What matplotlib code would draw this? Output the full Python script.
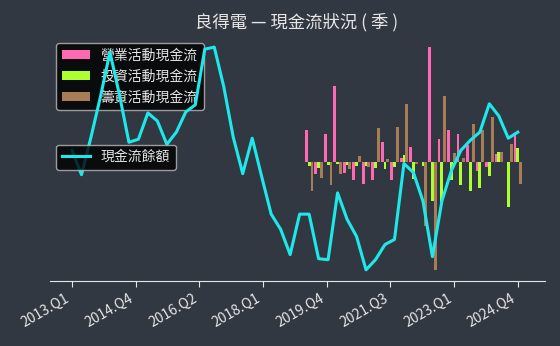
import numpy as np
import matplotlib
matplotlib.use("Agg")
import matplotlib.pyplot as plt

plt.rcParams['font.family'] = ['Noto Sans CJK TC', 'DejaVu Sans']

# quarterly data, 2013.Q1 .. 2024.Q4 (48 quarters)
cash_balance = [131, 107, 144, 184, 228, 186, 139, 142, 168, 160,
                137, 149, 169, 176, 231, 233, 194, 144, 108, 143,
                105, 68, 53, 28, 68, 68, 24, 23, 89, 63,
                46, 13, 23, 38, 43, 118, 109, 81, 26, 81,
                111, 131, 141, 149, 177, 165, 143, 149]

# cash flow bars only for 2019.Q2 .. 2024.Q4
bar_start = 25
operating = [31, -12, 27, 75, -11, -18, -22, -18, 19, -18, 3, 14,
             0, 113, 22, 31, 27, 16, -9, -5, 7, 0, 26]
investing = [-4, -6, -3, -2, -3, -4, -4, -6, -7, -5, 6, -17,
             -4, -39, -40, -18, -23, -29, -26, -14, 9, -45, 13]
financing = [-29, -16, -23, -12, -7, 5, -5, 33, 2, 34, 57, -2,
             -64, -107, 65, 8, 3, 37, 31, 44, 9, 17, -22]

tick_labels = ['2013.Q1', '2014.Q4', '2016.Q2', '2018.Q1',
               '2019.Q4', '2021.Q3', '2023.Q1', '2024.Q4']

bg = '#323842'
fg = '#e6e6e6'

fig = plt.figure(figsize=(5.6, 3.46), dpi=100, facecolor=bg)
ax = fig.add_axes([0.0884, 0.188, 0.884, 0.708])
ax.set_facecolor(bg)

x = np.arange(len(cash_balance))
xb = np.arange(bar_start, bar_start + len(operating))
w = 0.3
ax.bar(xb - w, operating, width=w, color='#ff69b4', label='營業活動現金流')
ax.bar(xb, investing, width=w, color='#adff2f', label='投資活動現金流')
ax.bar(xb + w, financing, width=w, color='#a87d56', label='籌資活動現金流')

ax2 = ax.twinx()
ax2.plot(x, cash_balance, color='#1ee8ea', lw=2.2, label='現金流餘額')

for a in (ax, ax2):
    for s in ['top', 'right', 'left']:
        a.spines[s].set_visible(False)
    a.set_yticks([])
ax2.spines['bottom'].set_visible(False)
ax.spines['bottom'].set_color(fg)

ax.set_xticks(np.linspace(0, len(cash_balance) - 1, len(tick_labels)))
ax.set_xticklabels(tick_labels, rotation=30, ha='right', color=fg, fontsize=10)
ax.tick_params(axis='x', colors=fg, length=4)

ax.set_title('良得電 — 現金流狀況 ( 季 )', color=fg, fontsize=12.5, pad=6)

leg1 = ax.legend(loc='upper left', facecolor='black', edgecolor='#bbbbbb',
                 fontsize=10, labelcolor=fg)
leg2 = ax2.legend(loc='upper left', bbox_to_anchor=(0, 0.585),
                  facecolor='black', edgecolor='#bbbbbb', fontsize=10,
                  labelcolor=fg)

plt.savefig('out.png', dpi=100, facecolor=bg)
